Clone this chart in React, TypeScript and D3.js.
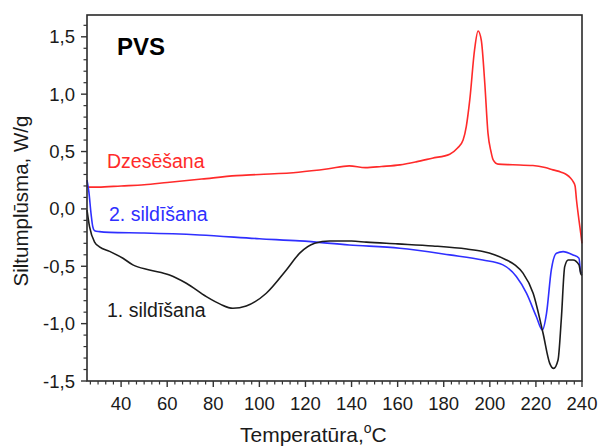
import React from "react";
import * as d3 from "d3";

const redT = [25.3, 30, 40, 50, 60, 75, 90, 100, 117, 130, 139, 146, 153, 161, 168, 175, 182.6, 186, 188.4, 189.8, 191.3, 193.4, 194.9, 196.3, 197.8, 199.2, 200.5, 201.4, 203.6, 210, 218.7, 224, 227.4, 231, 233.2, 235, 236.1, 237, 237.6, 238.7, 239.5, 240];
const redV = [0.19, 0.19, 0.2, 0.21, 0.23, 0.26, 0.29, 0.30, 0.32, 0.35, 0.375, 0.36, 0.37, 0.384, 0.41, 0.442, 0.477, 0.53, 0.60, 0.72, 0.95, 1.39, 1.55, 1.47, 1.10, 0.66, 0.50, 0.43, 0.39, 0.385, 0.378, 0.36, 0.34, 0.32, 0.30, 0.27, 0.24, 0.2, 0.08, -0.10, -0.22, -0.3];

const blueT = [25.2, 26, 27, 27.7, 28.5, 30.6, 35, 50, 74, 100, 117.5, 139, 160.9, 182.6, 197, 205.7, 211.5, 215.9, 220.2, 222.8, 224.6, 226.7, 228.9, 231.8, 236.1, 238.7, 239.4, 240];
const blueV = [0.25, 0.15, -0.05, -0.155, -0.19, -0.198, -0.205, -0.21, -0.227, -0.26, -0.279, -0.314, -0.343, -0.401, -0.445, -0.488, -0.59, -0.735, -0.94, -1.055, -0.91, -0.53, -0.386, -0.372, -0.401, -0.43, -0.547, -0.56];

const blackT = [25.2, 26.3, 28.5, 30.6, 35, 40.8, 45.1, 52.3, 61, 68.3, 77, 83, 88.5, 94.3, 103, 111.7, 117.5, 124, 130.5, 140, 146.4, 160, 175.3, 190, 197, 202, 207.2, 211, 214.4, 218.8, 223.1, 226, 227.7, 229.6, 231, 232.5, 234, 236.1, 238.7, 239.4, 240];
const blackV = [-0.01, -0.155, -0.29, -0.33, -0.37, -0.43, -0.488, -0.532, -0.576, -0.648, -0.765, -0.83, -0.866, -0.846, -0.735, -0.532, -0.386, -0.30, -0.28, -0.28, -0.29, -0.305, -0.323, -0.35, -0.372, -0.40, -0.445, -0.49, -0.56, -0.735, -1.084, -1.346, -1.39, -1.317, -0.968, -0.503, -0.445, -0.445, -0.488, -0.56, -0.58];

const xTicks = [40, 60, 80, 100, 120, 140, 160, 180, 200, 220, 240];
const yTicks = [-1.5, -1.0, -0.5, 0.0, 0.5, 1.0, 1.5];
const yTickLabels = ["-1,5", "-1,0", "-0,5", "0,0", "0,5", "1,0", "1,5"];

const series = [
  { name: "Dzesēšana", t: redT, v: redV, color: "#ff2a2a" },
  { name: "2. sildīšana", t: blueT, v: blueV, color: "#2f2fff" },
  { name: "1. sildīšana", t: blackT, v: blackV, color: "#1c1c1c" },
];

const W = 600, H = 447;
const L = 87, R = 582, T = 15, B = 381;
const FONT = "'Liberation Sans', Arial, sans-serif";

export default function App() {
  const x = d3.scaleLinear().domain([25.2, 240]).range([L, R]);
  const y = d3.scaleLinear().domain([-1.5, 1.69]).range([B, T]);
  const line = d3.line<[number, number]>().x(d => x(d[0])).y(d => y(d[1])).curve(d3.curveMonotoneX);

  const xMinor: number[] = [];
  for (let k = 0; k <= 70; k++) {
    const t = 240 - k * (20 / 6);
    if (t >= 25.2 && Math.abs(((240 - t) / 20) - Math.round((240 - t) / 20)) > 1e-6) xMinor.push(t);
  }
  const yMinor: number[] = [];
  for (let k = -15; k <= 16; k++) {
    if (k % 5 !== 0) yMinor.push(k / 10);
  }

  return (
    <svg width={W} height={H} style={{ position: "absolute", left: 0, top: 0, background: "#fff" }} fontFamily={FONT}>
      <rect x={0} y={0} width={W} height={H} fill="#fff" />
      <g>
        {series.map(s => (
          <path key={s.name} d={line(s.t.map((t, i) => [t, s.v[i]] as [number, number])) || ""} fill="none" stroke={s.color} strokeWidth={1.6} />
        ))}
      </g>
      <rect x={L} y={T} width={R - L} height={B - T} fill="none" stroke="#2a2a2a" strokeWidth={1.6} />
      {xTicks.map(t => (
        <g key={"xt" + t}>
          <line x1={x(t)} x2={x(t)} y1={B} y2={B + 6} stroke="#333" strokeWidth={1.4} />
          <text x={x(t)} y={410} fontSize={18.5} textAnchor="middle" fill="#1a1a1a">{t}</text>
        </g>
      ))}
      {xMinor.map(t => (
        <line key={"xm" + t} x1={x(t)} x2={x(t)} y1={B} y2={B + 3.5} stroke="#333" strokeWidth={1.2} />
      ))}
      {yTicks.map((v, i) => (
        <g key={"yt" + v}>
          <line x1={L - 6} x2={L} y1={y(v)} y2={y(v)} stroke="#333" strokeWidth={1.4} />
          <text x={75} y={y(v) + 6.5} fontSize={18.5} textAnchor="end" fill="#1a1a1a">{yTickLabels[i]}</text>
        </g>
      ))}
      {yMinor.map(v => (
        <line key={"ym" + v} x1={L - 3.5} x2={L} y1={y(v)} y2={y(v)} stroke="#333" strokeWidth={1.2} />
      ))}
      <text x={117} y={55} fontSize={24} fontWeight="bold" fill="#000">PVS</text>
      <text x={107} y={168} fontSize={19.5} fill="#ff2a2a">Dzesēšana</text>
      <text x={109} y={221} fontSize={19.5} fill="#2f2fff">2. sildīšana</text>
      <text x={107} y={317} fontSize={19.5} fill="#1a1a1a">1. sildīšana</text>
      <text transform={`translate(28,201) rotate(-90)`} fontSize={20.5} textAnchor="middle" fill="#1a1a1a">Siltumplūsma, W/g</text>
      <text x={240} y={442} fontSize={21} fill="#1a1a1a">
        Temperatūra,<tspan dy={-9} fontSize={14}>o</tspan><tspan dy={9}>C</tspan>
      </text>
    </svg>
  );
}
